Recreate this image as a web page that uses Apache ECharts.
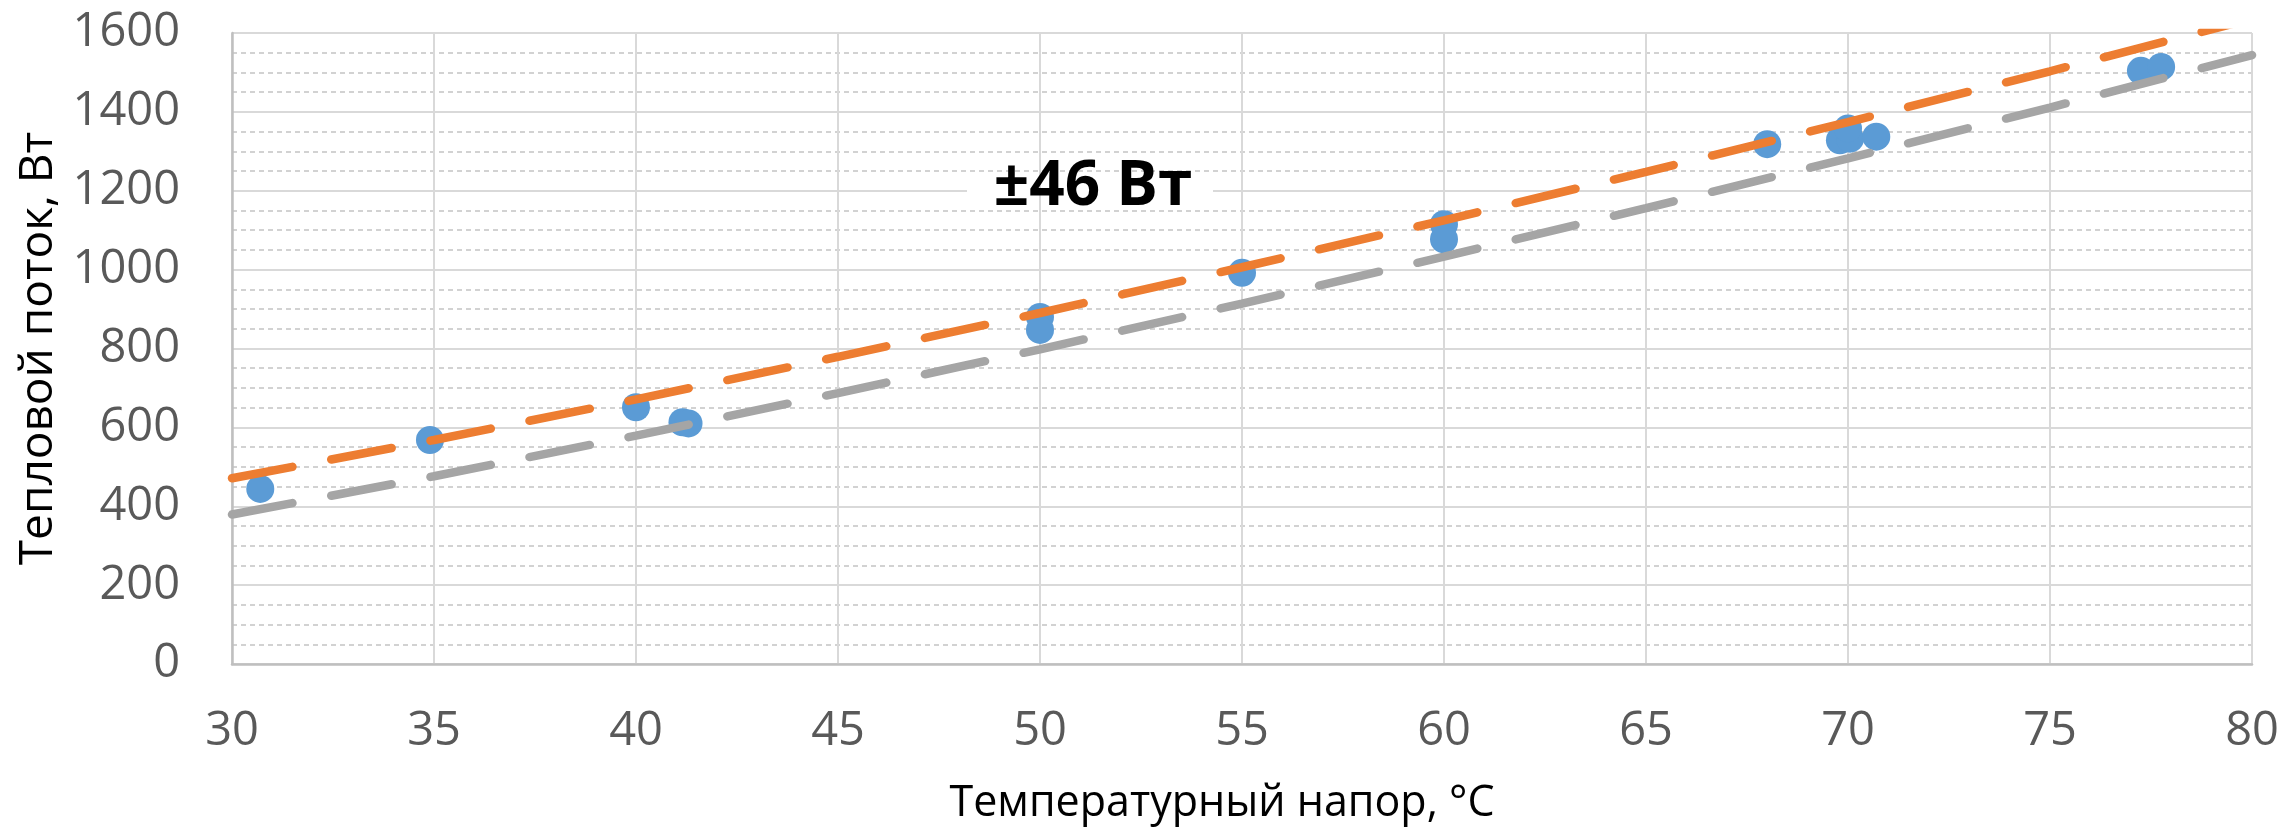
<!DOCTYPE html>
<html>
<head>
<meta charset="utf-8">
<script src="https://cdn.jsdelivr.net/npm/echarts@6/dist/echarts.min.js"></script>
<style>
  html, body { margin: 0; padding: 0; background: #ffffff; }
  #chart { width: 2282px; height: 831px; }
</style>
</head>
<body>
<div id="chart"></div>
<script>
// ---- Data ----
const tempDiff = [30.7, 34.9, 40.0, 41.15, 41.3, 50.0, 50.0, 55.0, 60.0, 60.0, 68.0, 69.8, 70.05, 70.0, 70.7, 77.25, 77.75];
const heatFlux = [444, 568, 651, 613, 610, 880, 847, 992, 1115, 1077, 1318, 1328, 1332, 1358, 1337, 1504, 1514];

// Band lines (trend ±46 W), read at every 5 °C
const bandX     = [30, 35, 40, 45, 50, 55, 60, 65, 70, 75, 80];
const upperBand = [471, 568, 671, 779, 890, 1006, 1125, 1248, 1374, 1503, 1636];
const lowerBand = [379, 476, 579, 687, 798, 914, 1033, 1156, 1282, 1411, 1544];

const xTitle = 'Температурный напор, °C';
const yTitle = 'Тепловой поток, Вт';
const bandLabel = '±46 Вт';

const FONT = 'Open Sans';

const chart = echarts.init(document.getElementById('chart'), null, { renderer: 'canvas' });

const pts = tempDiff.map((x, i) => [x, heatFlux[i]]);
const upper = bandX.map((x, i) => [x, upperBand[i]]);
const lower = bandX.map((x, i) => [x, lowerBand[i]]);

const dashStyle = { width: 8.5, type: [61.5, 39.5], cap: 'round' };

chart.setOption({
  animation: false,
  backgroundColor: '#ffffff',
  grid: {
    left: 232, right: 30, top: 33, bottom: 167,
    containLabel: false,
    outerBoundsMode: 'none'
  },
  xAxis: {
    type: 'value',
    min: 30, max: 80, interval: 5,
    name: xTitle,
    nameLocation: 'middle',
    nameGap: 118,
    nameTextStyle: { fontFamily: FONT, fontSize: 43, color: '#000000', padding: [0, 40, 0, 0] },
    axisLine: { show: true, lineStyle: { color: '#bfbfbf', width: 2.5 } },
    axisTick: { show: false },
    axisLabel: { fontFamily: FONT, fontSize: 47, color: '#595959', margin: 44, formatter: v => String(v) },
    splitLine: { show: true, lineStyle: { color: '#d9d9d9', width: 2 } }
  },
  yAxis: {
    type: 'value',
    min: 0, max: 1600, interval: 200,
    name: yTitle,
    nameLocation: 'middle',
    nameRotate: 90,
    nameGap: 164,
    nameTextStyle: { fontFamily: FONT, fontSize: 46, color: '#000000' },
    axisLine: { show: true, lineStyle: { color: '#bfbfbf', width: 2.5 } },
    axisTick: { show: false },
    axisLabel: { fontFamily: FONT, fontSize: 47, color: '#595959', margin: 52, formatter: v => String(v) },
    splitLine: { show: true, lineStyle: { color: '#d9d9d9', width: 2 } },
    minorTick: { show: false, splitNumber: 4 },
    minorSplitLine: { show: true, lineStyle: { color: '#c4c4c4', width: 1.5, type: [5, 4] } }
  },
  graphic: [
    {
      type: 'rect', z: 50, silent: true,
      shape: { x: 967, y: 189, width: 246, height: 4 },
      style: { fill: '#ffffff' }
    },
    {
      type: 'text', z: 100, silent: true,
      style: {
        text: bandLabel,
        x: 1093, y: 187,
        align: 'center', verticalAlign: 'middle',
        font: 'bold 62px "Open Sans"',
        fill: '#000000'
      }
    }
  ],
  series: [
    {
      type: 'scatter',
      data: pts,
      symbol: 'circle',
      symbolSize: 28,
      itemStyle: { color: '#5b9bd5', opacity: 1 },
      z: 2
    },
    {
      type: 'line',
      data: upper,
      showSymbol: false,
      symbol: 'none',
      clip: true,
      lineStyle: Object.assign({ color: '#ed7d31' }, dashStyle),
      z: 3
    },
    {
      type: 'line',
      data: lower,
      showSymbol: false,
      symbol: 'none',
      clip: true,
      lineStyle: Object.assign({ color: '#a5a5a5' }, dashStyle),
      z: 3
    }
  ]
});
</script>
</body>
</html>
